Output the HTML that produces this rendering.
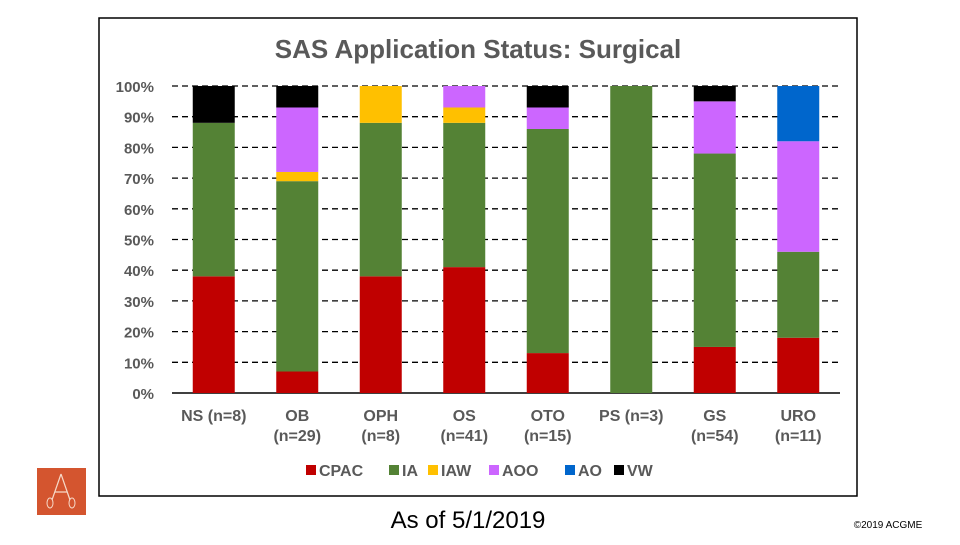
<!DOCTYPE html>
<html><head><meta charset="utf-8"><style>
body{margin:0;width:960px;height:540px;background:#fff;overflow:hidden;font-family:"Liberation Sans",Arial,sans-serif}
</style></head><body>
<svg width="960" height="540" xmlns="http://www.w3.org/2000/svg">
<rect x="99" y="18" width="758" height="478" fill="#fff" stroke="#000" stroke-width="1.5"/>
<text x="478" y="58" text-anchor="middle" font-size="26" font-weight="bold" fill="#595959">SAS Application Status: Surgical</text>
<g id="grid"></g>
<g id="yticks"></g>
<g id="bars"></g>
<g id="xlabels"></g>
<g id="legend"></g>
<g>
<rect x="37" y="468" width="49" height="47" fill="#d4552f"/>
<path d="M61 474 L52 500 M61 474 L70 500 M55 492 L67 492" stroke="#f6d9c8" stroke-width="1.2" fill="none"/>
<ellipse cx="50" cy="503" rx="3" ry="5" fill="none" stroke="#f6d9c8" stroke-width="1"/>
<ellipse cx="72" cy="503" rx="3" ry="5" fill="none" stroke="#f6d9c8" stroke-width="1"/>
</g>
<text x="468" y="528" text-anchor="middle" font-size="24" fill="#000">As of 5/1/2019</text>
<text x="888" y="528" text-anchor="middle" font-size="10" fill="#000">©2019 ACGME</text>
</svg>
<script>
const categories=["NS (n=8)","OB|(n=29)","OPH|(n=8)","OS|(n=41)","OTO|(n=15)","PS (n=3)","GS|(n=54)","URO|(n=11)"];
const seriesNames=["CPAC","IA","IAW","AOO","AO","VW"];
const CPAC=[38,7,38,41,13,0,15,18];
const IA=[50,62,50,47,73,100,63,28];
const IAW=[0,3,12,5,0,0,0,0];
const AOO=[0,21,0,7,7,0,17,36];
const AO=[0,0,0,0,0,0,0,18];
const VW=[12,7,0,0,7,0,5,0];
const yTicks=[0,10,20,30,40,50,60,70,80,90,100];
const colors=["#c00000","#548235","#ffc000","#cc66ff","#0066cc","#000000"];
const series=[CPAC,IA,IAW,AOO,AO,VW];
const NS="http://www.w3.org/2000/svg";
const x0=172,x1=840,yTop=86,yBot=393;
const y=v=>yBot-(v/100)*(yBot-yTop);
const band=(x1-x0)/categories.length;
const cx=i=>x0+band*(i+0.5);
const barW=42;
function mk(t,a,p){const e=document.createElementNS(NS,t);for(const k in a)e.setAttribute(k,a[k]);p.appendChild(e);return e;}
const grid=document.getElementById('grid'),yt=document.getElementById('yticks');
yTicks.forEach(v=>{
 const l=mk('line',{x1:x0,x2:x1,y1:y(v),y2:y(v),stroke:'#000','stroke-width':v===0?1.5:1.3,'stroke-dasharray':v===0?'none':'6,4'},grid);
 
 
 const t=mk('text',{x:154,y:y(v)+6,'text-anchor':'end','font-size':15,'font-weight':'bold',fill:'#595959'},yt);
 t.textContent=v+'%';
 
 
});
const bars=document.getElementById('bars');
categories.forEach((c,i)=>{
 let acc=0;
 series.forEach((s,k)=>{
  const v=s[i];if(!v){return;}
  const r=mk('rect',{x:cx(i)-barW/2,y:y(acc+v),width:barW,height:y(acc)-y(acc+v),fill:colors[k]},bars);
  
  
  acc+=v;
 });
});
const xl=document.getElementById('xlabels');
categories.forEach((c,i)=>{
 c.split('|').forEach((ln,j)=>{
  const t=mk('text',{x:cx(i),y:421+j*20,'text-anchor':'middle','font-size':16,'font-weight':'bold',fill:'#595959'},xl);
  t.textContent=ln;
  
  
 });
});
const lg=document.getElementById('legend');
const lx=[306,389,428,489,565,614];
seriesNames.forEach((n,k)=>{
 const g=mk('g',{},lg);
 
 
 mk('rect',{x:lx[k],y:465,width:10,height:10,fill:colors[k]},g);
 const t=mk('text',{x:lx[k]+13,y:476,'font-size':16,'font-weight':'bold',fill:'#595959'},g);
 t.textContent=n;
});
</script>
</body></html>
